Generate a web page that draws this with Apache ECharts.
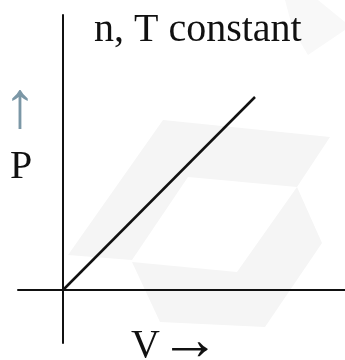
<!DOCTYPE html>
<html>
<head>
<meta charset="utf-8">
<script src="https://cdn.jsdelivr.net/npm/echarts@6/dist/echarts.min.js"></script>
<style>
  html, body { margin: 0; padding: 0; background: #fff; }
  #chart { width: 345px; height: 360px; }
</style>
</head>
<body>
<div id="chart"></div>
<script>
// values (arbitrary units, origin at the axis crossing)
const volume = [0, 192];
const pressure = [0, 193];

const xRange = [-45, 282];
const yRange = [-53, 275];

const serif = '"Liberation Serif", "DejaVu Serif", serif';
const wash = '#f5f5f5';

const chart = echarts.init(document.getElementById('chart'));

chart.setOption({
  animation: false,
  grid: { left: 18, right: 0, top: 15, bottom: 17 },
  xAxis: {
    type: 'value',
    min: xRange[0],
    max: xRange[1],
    axisLine: { onZero: true, lineStyle: { color: '#111', width: 2 } },
    axisTick: { show: false },
    axisLabel: { show: false },
    splitLine: { show: false }
  },
  yAxis: {
    type: 'value',
    min: yRange[0],
    max: yRange[1],
    axisLine: { onZero: true, lineStyle: { color: '#111', width: 2 } },
    axisTick: { show: false },
    axisLabel: { show: false },
    splitLine: { show: false }
  },
  graphic: [
    // faint watermark behind the plot
    { type: 'polygon', z: -10, shape: { points: [[163,120],[330,137],[297,187],[188,177],[132,260],[68,255]] }, style: { fill: wash } },
    { type: 'polygon', z: -10, shape: { points: [[297,187],[322,243],[265,327],[160,322],[132,262],[237,272]] }, style: { fill: wash } },
    { type: 'polygon', z: -10, shape: { points: [[285,0],[318,0],[345,22],[345,30],[308,55],[293,30]] }, style: { fill: '#f8f8f8' } },
    { type: 'text', left: 94, top: 10, style: { text: 'n, T constant', font: '40px ' + serif, fill: '#111' } },
    { type: 'text', x: 20, y: 110, style: { text: '↑', font: '66px ' + serif, fill: '#7b97a6', align: 'center', verticalAlign: 'middle' } },
    { type: 'text', left: 10, top: 147, style: { text: 'P', font: '40px ' + serif, fill: '#111' } },
    { type: 'text', left: 131, top: 326, style: { text: 'V', font: '40px ' + serif, fill: '#111' } },
    { type: 'text', x: 190, y: 343, style: { text: '→', font: '60px ' + serif, fill: '#111', align: 'center', verticalAlign: 'middle' } }
  ],
  series: [{
    type: 'line',
    data: volume.map((v, i) => [v, pressure[i]]),
    symbol: 'none',
    lineStyle: { color: '#111', width: 2.5 }
  }]
});
</script>
</body>
</html>
